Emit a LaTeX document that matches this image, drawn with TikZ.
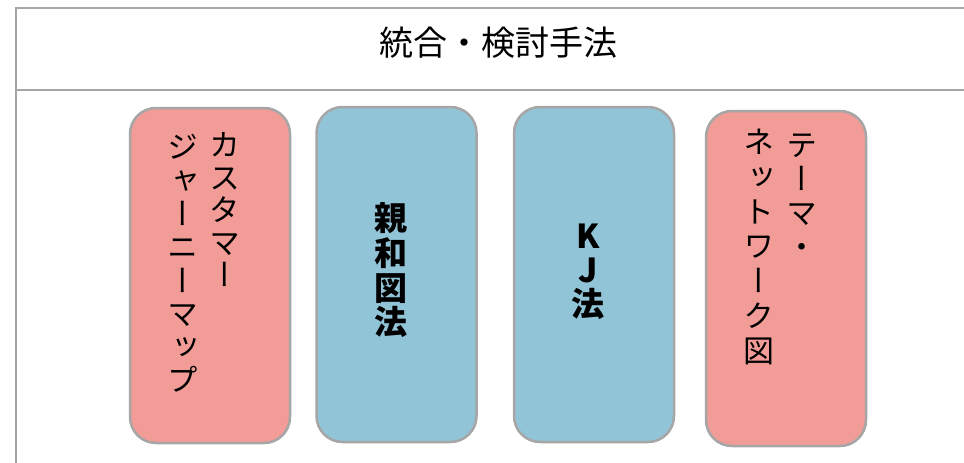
\documentclass[tikz,border=0pt]{standalone}
\usepackage{fontspec}
\newfontfamily\jp{Noto Sans CJK JP}
\newfontfamily\jpv[RawFeature=+vert]{Noto Sans CJK JP}
\definecolor{pinkfill}{HTML}{F29C97}
\definecolor{bluefill}{HTML}{92C4D8}
\definecolor{edgegray}{HTML}{A6A6A6}
\begin{document}
\begin{tikzpicture}[x=1pt,y=-1pt,
  methodbox/.style={draw=edgegray, line width=2.5pt, rounded corners=26pt,
    minimum width=160pt, minimum height=335pt, inner sep=0pt},
  pinkbox/.style={methodbox, fill=pinkfill},
  bluebox/.style={methodbox, fill=bluefill},
  vchar/.style={inner sep=0pt, font=\jpv\fontsize{31}{34}\selectfont,
    text height=0.88em, text depth=0.12em},
  bchar/.style={inner sep=0pt, font=\jp\bfseries\fontsize{33}{34}\selectfont,
    text height=0.88em, text depth=0.12em},
  frameline/.style={draw=edgegray, line width=2pt}]
\useasboundingbox (0,0) rectangle (964,463);
% frame
\coordinate (tl) at (16,8);
\coordinate (tr) at (966,8);
\coordinate (ml) at (16,90);
\coordinate (mr) at (966,90);
\coordinate (bl) at (16,465);
\draw[frameline] (tr) -- (tl) -- (bl);
\draw[frameline] (ml) -- (mr);
\node[inner sep=0pt, font=\jp\fontsize{34}{40}\selectfont,
  text height=0.88em, text depth=0.12em] (title) at (498,52) {統合・検討手法};
% boxes
\node[pinkbox] (b1) at (210,275.5) {};
\node[bluebox] (b2) at (396.5,274.5) {};
\node[bluebox] (b3) at (594,274.5) {};
\node[pinkbox] (b4) at (786,278.5) {};
% box 1 text
\foreach \c [count=\i] in {カ,ス,タ,マ,ー}
  \node[vchar] (b1a-\i) at (225,{153+32.5*(\i-1)}) {\c};
\foreach \c [count=\i] in {ジ,ャ,ー,ニ,ー,マ,ッ,プ}
  \node[vchar] (b1b-\i) at (183,{155+33.3*(\i-1)}) {\c};
% box 2 text
\foreach \c [count=\i] in {親,和,図,法}
  \node[bchar] (b2a-\i) at (391,{227+34.7*(\i-1)}) {\c};
% box 3 text
\foreach \c [count=\i] in {K,J,法}
  \node[bchar] (b3a-\i) at (588,{245+34*(\i-1)}) {\c};
% box 4 text
\foreach \c [count=\i] in {テ,ー,マ,・}
  \node[vchar] (b4a-\i) at (802,{153+34*(\i-1)}) {\c};
\foreach \c [count=\i] in {ネ,ッ,ト,ワ,ー,ク,図}
  \node[vchar] (b4b-\i) at (759,{150+34.7*(\i-1)}) {\c};
\end{tikzpicture}
\end{document}
